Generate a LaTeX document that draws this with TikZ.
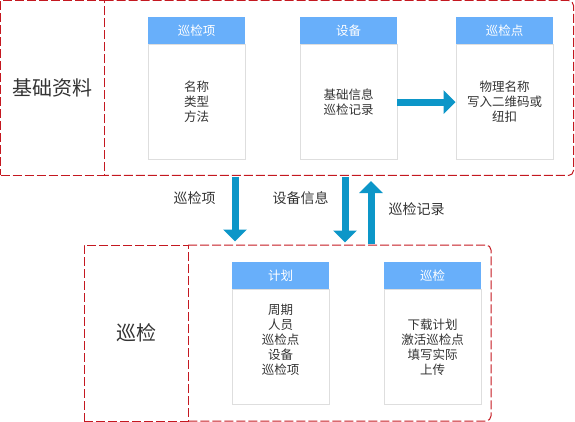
\documentclass[tikz,border=0pt]{standalone}
\usepackage{fontspec}
\newfontfamily\cjk{Noto Sans CJK SC}
\usetikzlibrary{positioning,arrows.meta}
\definecolor{headblue}{RGB}{104,175,250}
\definecolor{flowblue}{RGB}{12,150,200}
\definecolor{dashred}{RGB}{196,24,32}
\definecolor{cardgray}{RGB}{222,222,222}
\definecolor{inkgray}{RGB}{51,51,51}
\tikzset{
	zone/.style={inner sep=0pt, outer sep=0pt},
	divider/.style={draw=dashred, line width=1pt, dash pattern=on 9pt off 3pt},
	zonelabel/.style={divider, text=inkgray, inner sep=0pt, outer sep=0pt, font=\cjk\fontsize{20}{24}\selectfont},
	cardhead/.style={fill=headblue, text=white, minimum width=97pt, minimum height=27pt, inner sep=0pt, font=\cjk\fontsize{12.5}{15}\selectfont},
	cardbody/.style={draw=cardgray, line width=0.8pt, minimum width=97pt, minimum height=115pt, inner sep=0pt, below=0pt of #1},
	cardtext/.style={align=center, text=inkgray, inner sep=0pt, font=\cjk\fontsize{12.5}{15}\selectfont},
	flow/.style={draw=flowblue, line width=7pt, -{Triangle[width=23pt,length=12pt]}},
	flowlabel/.style={text=inkgray, inner sep=0pt, font=\cjk\fontsize{14}{16}\selectfont}
}
\begin{document}
\begin{tikzpicture}[x=1pt,y=-1pt]
	\useasboundingbox (0,0) rectangle (575,422);
	% zones
	\node[zone, minimum width=573pt, minimum height=175pt] (basezone) at (287,88) {};
	\node[zonelabel, minimum width=104pt, minimum height=175pt] (baselabel) at (52.5,88) {基础资料};
	\draw[divider, rounded corners=5pt] (baselabel.north east) -- (basezone.north east) -- (basezone.south east) -- (baselabel.south east);
	\node[zone, minimum width=407pt, minimum height=176pt] (patrolzone) at (287.5,333) {};
	\node[zonelabel, minimum width=104pt, minimum height=176pt] (patrollabel) at (136,333) {巡检};
	\draw[divider, rounded corners=5pt] (patrollabel.north east) -- (patrolzone.north east) -- (patrolzone.south east) -- (patrollabel.south east);
	% cards
	\node[cardhead] (itemhead) at (196.5,30.5) {巡检项};
	\node[cardbody=itemhead] (itembody) {};
	\node[cardtext] (itemtext) at (itembody) {名称\\类型\\方法};
	\node[cardhead] (devhead) at (348.5,30.5) {设备};
	\node[cardbody=devhead] (devbody) {};
	\node[cardtext] (devtext) at (devbody) {基础信息\\巡检记录};
	\node[cardhead] (pointhead) at (504.5,30.5) {巡检点};
	\node[cardbody=pointhead] (pointbody) {};
	\node[cardtext] (pointtext) at (pointbody) {物理名称\\写入二维码或\\纽扣};
	\node[cardhead] (planhead) at (280.5,275.5) {计划};
	\node[cardbody=planhead] (planbody) {};
	\node[cardtext, yshift=7.5pt] (plantext) at (planbody) {周期\\人员\\巡检点\\设备\\巡检项};
	\node[cardhead] (runhead) at (432.5,275.5) {巡检};
	\node[cardbody=runhead] (runbody) {};
	\node[cardtext] (runtext) at (runbody) {下载计划\\激活巡检点\\填写实际\\上传};
	% flows
	\draw[flow] (devbody) -- (pointbody);
	\coordinate (itemflow) at (235,0);
	\coordinate (devflow) at (345,0);
	\coordinate (recflow) at (371,0);
	\draw[flow, shorten <=1.5pt, shorten >=3.5pt] (basezone.south -| itemflow) -- node[flowlabel, pos=0.32, left=16pt] (itemlabel) {巡检项} (patrolzone.north -| itemflow);
	\draw[flow, shorten <=1.5pt, shorten >=2.5pt] (basezone.south -| devflow) -- node[flowlabel, pos=0.32, left=13pt] (devlabel) {设备信息} (patrolzone.north -| devflow);
	\draw[flow, shorten <=1.5pt, shorten >=5.5pt] (patrolzone.north -| recflow) -- node[flowlabel, pos=0.52, right=14pt] (reclabel) {巡检记录} (basezone.south -| recflow);
\end{tikzpicture}
\end{document}
